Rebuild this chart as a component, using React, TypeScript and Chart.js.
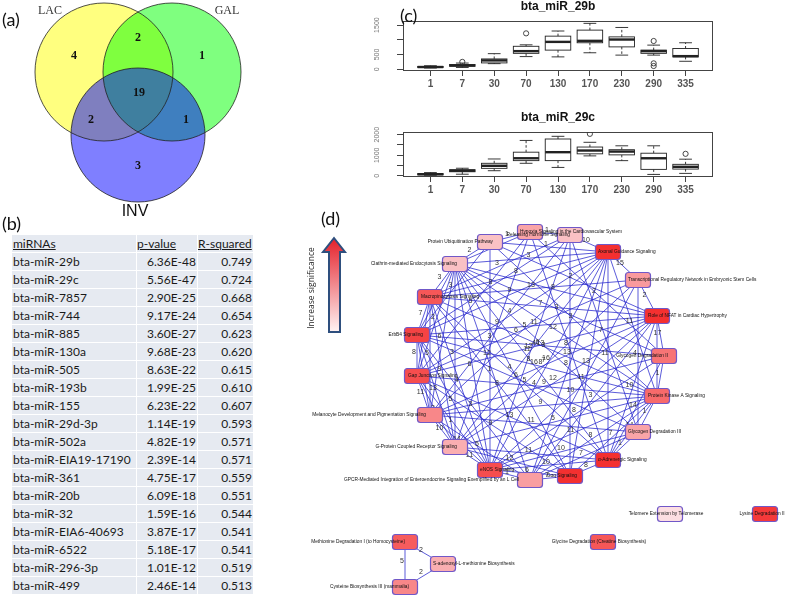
import React, { useEffect, useRef } from 'react';
import { Chart, registerables } from 'chart.js';
Chart.register(...registerables);

// ---------- (a) Venn ----------
const vennSets = ['LAC', 'GAL', 'INV'];
const vennCenterX = [104, 172, 138];
const vennCenterY = [72, 72, 135];
const vennRadius = [69, 69, 67];
const vennCounts = ['4', '2', '1', '19', '2', '1', '3'];
const vennCountX = [74, 138, 202, 139, 91, 186, 138];
const vennCountY = [56, 38, 56, 93, 120, 120, 166];

// ---------- (b) table ----------
const miRNAs = ['bta-miR-29b', 'bta-miR-29c', 'bta-miR-7857', 'bta-miR-744', 'bta-miR-885', 'bta-miR-130a', 'bta-miR-505', 'bta-miR-193b', 'bta-miR-155', 'bta-miR-29d-3p', 'bta-miR-502a', 'bta-miR-EIA19-17190', 'bta-miR-361', 'bta-miR-20b', 'bta-miR-32', 'bta-miR-EIA6-40693', 'bta-miR-6522', 'bta-miR-296-3p', 'bta-miR-499'];
const pValues = ['6.36E-48', '5.56E-47', '2.90E-25', '9.17E-24', '3.60E-27', '9.68E-23', '8.63E-22', '1.99E-25', '6.23E-22', '1.14E-19', '4.82E-19', '2.39E-14', '4.75E-17', '6.09E-18', '1.59E-16', '3.87E-17', '5.18E-17', '1.01E-12', '2.46E-14'];
const rSquared = ['0.749', '0.724', '0.668', '0.654', '0.623', '0.620', '0.615', '0.610', '0.607', '0.593', '0.571', '0.571', '0.559', '0.551', '0.544', '0.541', '0.541', '0.519', '0.513'];

// ---------- (c) boxplots ----------
const days = ['1', '7', '30', '70', '130', '170', '230', '290', '335'];
// [min, q1, median, q3, max]
const mir29bStats = [[40, 60, 75, 95, 120], [60, 100, 130, 160, 210], [190, 215, 300, 350, 530], [430, 540, 615, 780, 830], [420, 650, 930, 1125, 1300], [560, 900, 965, 1330, 1560], [480, 760, 1010, 1100, 1420], [480, 540, 615, 650, 820], [270, 420, 445, 705, 900]];
const mir29bOutliers = [[], [250], [], [1220], [], [], [], [960, 200, 110], []];
const mir29bTicks = [0, 500, 1000, 1500];
const mir29bTickLabels = ['0', '500', '', '1500'];
const mir29cStats = [[30, 50, 80, 110, 160], [80, 200, 250, 300, 370], [250, 365, 490, 610, 820], [610, 740, 855, 1150, 1720], [410, 740, 1150, 1790, 1920], [970, 1070, 1230, 1400, 1630], [740, 1020, 1180, 1270, 1460], [70, 315, 855, 1100, 1460], [120, 330, 440, 560, 810]];
const mir29cOutliers = [[], [], [], [], [], [2040], [], [], [1070]];
const mir29cTicks = [0, 500, 1000, 1500, 2000];
const mir29cTickLabels = ['0', '', '1000', '', '2000'];

// ---------- (d) network ----------
const nodeNames = [
  'Protein Ubiquitination Pathway',
  'Hypoxia Signaling in the Cardiovascular System',
  'Releasing Hormone Signaling',
  'Axonal Guidance Signaling',
  'Transcriptional Regulatory Network in Embryonic Stem Cells',
  'Role of NFAT in Cardiac Hypertrophy',
  'Glycogen Degradation II',
  'Protein Kinase A Signaling',
  'Glycogen Degradation III',
  'α-Adrenergic Signaling',
  'Gαq Signaling',
  'GPCR-Mediated Integration of Enteroendocrine Signaling Exemplified by an L Cell',
  'eNOS Signaling',
  'G-Protein Coupled Receptor Signaling',
  'Melanocyte Development and Pigmentation Signaling',
  'Gap Junction Signaling',
  'ErbB4 Signaling',
  'Macropinocytosis Signaling',
  'Clathrin-mediated Endocytosis Signaling',
  'Telomere Extension by Telomerase',
  'Lysine Degradation II',
  'Glycine Degradation (Creatine Biosynthesis)',
  'Methionine Degradation I (to Homocysteine)',
  'S-adenosyl-L-methionine Biosynthesis',
  'Cysteine Biosynthesis III (mammalia)',
];
const nodeX = [490, 530, 570, 608, 638, 657, 664, 657, 638, 608, 570, 530, 490, 455, 430, 417, 417, 430, 455, 670, 765, 603, 405, 443, 405];
const nodeY = [242, 232, 235, 252, 280, 316, 356, 396, 432, 460, 476, 480, 470, 447, 415, 376, 335, 297, 264, 514, 514, 542, 542, 564, 587];
const nodeSignificance = [0.2, 0.35, 0.2, 0.95, 0.4, 0.95, 0.6, 0.65, 0.35, 0.95, 0.95, 0.38, 0.8, 0.3, 0.5, 0.8, 0.85, 0.75, 0.2, 0.05, 0.9, 0.75, 0.72, 0.3, 0.5];
const edges = [
  [0, 1, 1], [1, 2, 1], [2, 3, 10], [3, 4, 15], [4, 5, 2], [5, 6, 17], [6, 7, 1], [7, 8, 1], [8, 9, 1], [9, 10, 8], [10, 11, 7], [11, 12, 1], [12, 13, 11], [13, 14, 10], [14, 15, 11], [15, 16, 8], [16, 17, 7], [17, 18, 3], [18, 0, 2],
  [0, 12, 12], [0, 5, 2], [0, 7, 3], [0, 16, 3], [0, 3, 1],
  [1, 18, 1], [1, 9, 8], [1, 13, 3], [1, 6, 2], [1, 15, 5],
  [2, 10, 13], [2, 12, 11], [2, 14, 9], [2, 16, 8], [2, 17, 3], [2, 8, 7],
  [3, 9, 11], [3, 10, 13], [3, 11, 8], [3, 12, 16], [3, 13, 12], [3, 14, 6], [3, 15, 4], [3, 16, 9], [3, 17, 8], [3, 18, 3], [3, 7, 11],
  [4, 11, 11], [4, 13, 7], [4, 15, 5], [4, 17, 13], [4, 8, 4],
  [5, 17, 7], [5, 16, 11], [5, 15, 4], [5, 14, 8], [5, 13, 12], [5, 12, 10], [5, 11, 3], [5, 18, 8], [5, 7, 16], [5, 9, 10],
  [6, 12, 8], [6, 14, 9], [6, 16, 6], [6, 18, 3], [6, 9, 14],
  [7, 18, 12], [7, 17, 13], [7, 16, 16], [7, 15, 4], [7, 14, 9], [7, 13, 5], [7, 12, 11], [7, 11, 8], [7, 10, 7], [7, 9, 14],
  [8, 12, 10], [8, 14, 11], [8, 16, 5], [8, 18, 3], [8, 11, 7],
  [9, 13, 11], [9, 15, 13], [9, 17, 6], [9, 18, 8], [9, 12, 10],
  [10, 13, 12], [10, 15, 9], [10, 17, 8], [10, 18, 4], [10, 12, 6],
  [11, 14, 5], [11, 16, 3], [11, 18, 1],
  [12, 14, 14], [12, 15, 1], [12, 16, 5], [12, 17, 4], [12, 18, 6],
  [13, 15, 3], [13, 16, 13], [13, 17, 9], [13, 18, 3],
  [14, 16, 7], [14, 17, 5], [14, 18, 6],
  [15, 17, 3], [15, 18, 2],
  [16, 18, 9],
  [22, 23, 2], [22, 24, 5], [23, 24, 2],
];

// label style (alignment + horizontal offset from node centre, px)
const labelAlign = ['right', 'left', 'right', 'left', 'left', 'left', 'right', 'left', 'left', 'left', 'right', 'right', 'left', 'right', 'right', 'left', 'right', 'left', 'right', 'center', 'center', 'center', 'right', 'left', 'right'];
const labelDx = [3, -10, 0, -10, -10, -9, 4, -9, -10, -10, 7, -11, -10, 2, -4, -9, 6, -9, 2, -4, -3, -4, 0, -10, 4];

function sigColor(s: number) {
  const lo = [252, 232, 236];
  const hi = [244, 38, 38];
  const c = lo.map((v, i) => Math.round(v + (hi[i] - v) * s));
  return `rgb(${c[0]},${c[1]},${c[2]})`;
}

function roundRect(ctx: CanvasRenderingContext2D, x: number, y: number, w: number, h: number, r: number) {
  ctx.beginPath();
  ctx.moveTo(x + r, y);
  ctx.lineTo(x + w - r, y);
  ctx.quadraticCurveTo(x + w, y, x + w, y + r);
  ctx.lineTo(x + w, y + h - r);
  ctx.quadraticCurveTo(x + w, y + h, x + w - r, y + h);
  ctx.lineTo(x + r, y + h);
  ctx.quadraticCurveTo(x, y + h, x, y + h - r);
  ctx.lineTo(x, y + r);
  ctx.quadraticCurveTo(x, y, x + r, y);
  ctx.closePath();
}

function makeBoxChart(canvas: HTMLCanvasElement, title: string, stats: number[][], outliers: number[][], yMin: number, yMax: number, yTicks: number[], yLabels: string[], padTop: number, xAxisH: number) {
  const boxPlugin = {
    id: 'boxes',
    beforeDatasetsDraw(chart: any) {
      const { ctx, chartArea: a, scales } = chart;
      const x = scales.x, y = scales.y;
      ctx.save();
      ctx.strokeStyle = '#444';
      ctx.lineWidth = 1;
      ctx.strokeRect(a.left + 0.5, a.top + 0.5, a.right - a.left - 1, a.bottom - a.top - 1);
      ctx.strokeStyle = '#222';
      stats.forEach((s, i) => {
        const cx = x.getPixelForValue(i + 1);
        const hw = x.getPixelForValue(i + 1.4) - cx;
        const sw = hw / 2;
        const [mn, q1, md, q3, mx] = s.map((v) => y.getPixelForValue(v));
        const line = (x1: number, y1: number, x2: number, y2: number) => { ctx.beginPath(); ctx.moveTo(x1, y1); ctx.lineTo(x2, y2); ctx.stroke(); };
        ctx.lineWidth = 0.9;
        ctx.setLineDash([2.5, 2]);
        line(cx, q3, cx, mx); line(cx, q1, cx, mn);
        ctx.setLineDash([]);
        line(cx - sw, mx, cx + sw, mx); line(cx - sw, mn, cx + sw, mn);
        ctx.fillStyle = '#fff';
        ctx.fillRect(cx - hw, q3, 2 * hw, q1 - q3);
        ctx.strokeRect(cx - hw, q3, 2 * hw, q1 - q3);
        ctx.lineWidth = 2.4;
        line(cx - hw, md, cx + hw, md);
      });
      ctx.restore();
    },
    afterDraw(chart: any) {
      const { ctx, chartArea: a } = chart;
      ctx.save();
      ctx.font = 'bold 12px "Liberation Sans"';
      ctx.fillStyle = '#111';
      ctx.textAlign = 'center';
      ctx.textBaseline = 'middle';
      ctx.fillText(title, (a.left + a.right) / 2, a.top - 14);
      ctx.restore();
    },
  };
  return new Chart(canvas, {
    type: 'scatter',
    data: {
      datasets: [{
        data: outliers.flatMap((arr, i) => arr.map((v) => ({ x: i + 1, y: v }))),
        pointStyle: 'circle', pointRadius: 2.6, borderColor: '#333', borderWidth: 0.9, backgroundColor: 'rgba(0,0,0,0)',
      }],
    },
    options: {
      animation: false, responsive: false, events: [],
      layout: { padding: { top: padTop, right: 12, left: 0, bottom: 0 } },
      plugins: { legend: { display: false }, tooltip: { enabled: false } },
      scales: {
        x: {
          type: 'linear', min: 0.14, max: 9.86,
          afterBuildTicks: (s: any) => { s.ticks = days.map((_, i) => ({ value: i + 1 })); },
          ticks: { callback: (v: any) => days[Math.round(v) - 1], font: { size: 10, weight: 'bold' }, color: '#555', padding: 2, autoSkip: false, maxRotation: 0 },
          grid: { drawOnChartArea: false, drawTicks: true, tickLength: 5, color: '#444' },
          border: { display: false },
          afterFit: (s: any) => { s.height = xAxisH; },
        },
        y: {
          type: 'linear', min: yMin, max: yMax,
          afterBuildTicks: (s: any) => { s.ticks = yTicks.map((v) => ({ value: v })); },
          ticks: { callback: (_v: any, i: number) => yLabels[i], minRotation: 90, maxRotation: 90, crossAlign: 'center', padding: 12, font: { size: 7 }, color: '#777', autoSkip: false },
          grid: { drawOnChartArea: false, drawTicks: true, tickLength: 6, color: '#444' },
          border: { display: false },
          afterFit: (s: any) => { s.width = 33; },
        },
      },
    } as any,
    plugins: [boxPlugin],
  });
}

export default function App() {
  const vennRef = useRef<HTMLCanvasElement>(null);
  const box1Ref = useRef<HTMLCanvasElement>(null);
  const box2Ref = useRef<HTMLCanvasElement>(null);
  const netRef = useRef<HTMLCanvasElement>(null);

  useEffect(() => {
    const charts: Chart[] = [];
    // Venn
    const vennFill = ['rgba(255,255,0,0.5)', 'rgba(0,255,0,0.5)', 'rgba(0,0,255,0.5)'];
    const vennPlugin = {
      id: 'venn',
      beforeDatasetsDraw(chart: any) {
        const { ctx, scales: { x, y } } = chart;
        ctx.save();
        vennCenterX.forEach((cx, i) => {
          const r = x.getPixelForValue(vennRadius[i]) - x.getPixelForValue(0);
          ctx.beginPath();
          ctx.arc(x.getPixelForValue(cx), y.getPixelForValue(vennCenterY[i]), r, 0, Math.PI * 2);
          ctx.fillStyle = vennFill[i];
          ctx.fill();
        });
        ctx.strokeStyle = '#222';
        ctx.lineWidth = 0.8;
        vennCenterX.forEach((cx, i) => {
          const r = x.getPixelForValue(vennRadius[i]) - x.getPixelForValue(0);
          ctx.beginPath();
          ctx.arc(x.getPixelForValue(cx), y.getPixelForValue(vennCenterY[i]), r, 0, Math.PI * 2);
          ctx.stroke();
        });
        ctx.restore();
      },
      afterDatasetsDraw(chart: any) {
        const { ctx, scales: { x, y } } = chart;
        ctx.save();
        ctx.fillStyle = '#111';
        ctx.textAlign = 'center';
        ctx.textBaseline = 'middle';
        ctx.font = 'bold 12px "Liberation Serif"';
        vennCounts.forEach((t, i) => ctx.fillText(t, x.getPixelForValue(vennCountX[i]), y.getPixelForValue(vennCountY[i])));
        ctx.font = '12px "Liberation Serif"';
        ctx.fillStyle = '#333';
        ctx.fillText(vennSets[0], x.getPixelForValue(50), y.getPixelForValue(11));
        ctx.fillText(vennSets[1], x.getPixelForValue(227), y.getPixelForValue(11));
        ctx.font = '16px "Liberation Sans"';
        ctx.fillStyle = '#111';
        ctx.fillText(vennSets[2], x.getPixelForValue(135), y.getPixelForValue(212));
        ctx.restore();
      },
    };
    charts.push(new Chart(vennRef.current!, {
      type: 'scatter',
      data: { datasets: [{ data: vennCenterX.map((cx, i) => ({ x: cx, y: vennCenterY[i] })), pointRadius: 0 }] },
      options: {
        animation: false, responsive: false, events: [],
        layout: { padding: 0 },
        plugins: { legend: { display: false }, tooltip: { enabled: false } },
        scales: {
          x: { type: 'linear', min: 0, max: 260, display: false },
          y: { type: 'linear', min: 0, max: 225, reverse: true, display: false },
        },
      } as any,
      plugins: [vennPlugin],
    }));

    charts.push(makeBoxChart(box1Ref.current!, 'bta_miR_29b', mir29bStats, mir29bOutliers, -60, 1640, mir29bTicks, mir29bTickLabels, 21, 24));
    charts.push(makeBoxChart(box2Ref.current!, 'bta_miR_29c', mir29cStats, mir29cOutliers, -55, 2130, mir29cTicks, mir29cTickLabels, 24, 23));

    // Network
    const netPlugin = {
      id: 'network',
      beforeDatasetsDraw(chart: any) {
        const { ctx, scales: { x, y } } = chart;
        const px = (i: number) => x.getPixelForValue(nodeX[i]);
        const py = (i: number) => y.getPixelForValue(nodeY[i]);
        ctx.save();
        // legend arrow
        const g = ctx.createLinearGradient(0, y.getPixelForValue(238), 0, y.getPixelForValue(332));
        g.addColorStop(0, '#e4202a');
        g.addColorStop(1, '#fff4f4');
        ctx.beginPath();
        ctx.moveTo(x.getPixelForValue(334), y.getPixelForValue(238));
        ctx.lineTo(x.getPixelForValue(345), y.getPixelForValue(252));
        ctx.lineTo(x.getPixelForValue(340), y.getPixelForValue(252));
        ctx.lineTo(x.getPixelForValue(340), y.getPixelForValue(332));
        ctx.lineTo(x.getPixelForValue(329), y.getPixelForValue(332));
        ctx.lineTo(x.getPixelForValue(329), y.getPixelForValue(252));
        ctx.lineTo(x.getPixelForValue(323), y.getPixelForValue(252));
        ctx.closePath();
        ctx.fillStyle = g;
        ctx.fill();
        ctx.strokeStyle = '#2e4f7e';
        ctx.lineWidth = 2;
        ctx.stroke();
        ctx.save();
        ctx.translate(x.getPixelForValue(312), y.getPixelForValue(288));
        ctx.rotate(-Math.PI / 2);
        ctx.font = '8.5px "Open Sans"';
        ctx.fillStyle = '#222';
        ctx.textAlign = 'center';
        ctx.textBaseline = 'middle';
        ctx.fillText('Increase significance', 0, 0);
        ctx.restore();
        // edges
        ctx.strokeStyle = 'rgba(40,40,205,0.85)';
        ctx.lineWidth = 0.9;
        edges.forEach(([a, b]) => {
          ctx.beginPath();
          ctx.moveTo(px(a), py(a));
          ctx.lineTo(px(b), py(b));
          ctx.stroke();
        });
        ctx.font = '7px "Liberation Sans"';
        ctx.fillStyle = '#333';
        ctx.textAlign = 'center';
        ctx.textBaseline = 'middle';
        edges.forEach(([a, b, w]) => {
          ctx.fillText(String(w), (px(a) + px(b)) / 2 - 3, (py(a) + py(b)) / 2 - 3);
        });
        // nodes
        nodeNames.forEach((_, i) => {
          roundRect(ctx, px(i) - 12.5, py(i) - 7.5, 25, 15, 3);
          ctx.fillStyle = sigColor(nodeSignificance[i]);
          ctx.fill();
          ctx.strokeStyle = '#7058c8';
          ctx.lineWidth = 1.2;
          ctx.stroke();
        });
        ctx.font = '4.8px "Liberation Sans"';
        ctx.fillStyle = '#111';
        ctx.textBaseline = 'middle';
        nodeNames.forEach((name, i) => {
          ctx.textAlign = labelAlign[i];
          ctx.fillText(name, px(i) + labelDx[i], py(i));
        });
        ctx.restore();
      },
    };
    charts.push(new Chart(netRef.current!, {
      type: 'scatter',
      data: { datasets: [{ data: nodeX.map((v, i) => ({ x: v, y: nodeY[i] })), pointRadius: 0 }] },
      options: {
        animation: false, responsive: false, events: [],
        layout: { padding: 0 },
        plugins: { legend: { display: false }, tooltip: { enabled: false } },
        scales: {
          x: { type: 'linear', min: 290, max: 787, display: false },
          y: { type: 'linear', min: 190, max: 597, reverse: true, display: false },
        },
      } as any,
      plugins: [netPlugin],
    }));
    return () => charts.forEach((c) => c.destroy());
  }, []);

  const panelLabel = (t: string, left: number, top: number) => (
    <div style={{ position: 'absolute', left, top, fontFamily: 'Lato', fontSize: 18, color: '#111', lineHeight: '20px' }}>{t}</div>
  );
  const cell: React.CSSProperties = { background: '#e6eaf1', height: 17, padding: 0, lineHeight: '17px', whiteSpace: 'nowrap' };

  return (
    <div style={{ position: 'fixed', left: 0, top: 0, width: 787, height: 597, background: '#fff', overflow: 'hidden' }}>
      <canvas ref={vennRef} width={260} height={225} style={{ position: 'absolute', left: 0, top: 0, width: 260, height: 225 }} />
      <canvas ref={box1Ref} width={355} height={95} style={{ position: 'absolute', left: 370, top: 0, width: 355, height: 95 }} />
      <canvas ref={box2Ref} width={355} height={92} style={{ position: 'absolute', left: 370, top: 108, width: 355, height: 92 }} />
      <canvas ref={netRef} width={497} height={407} style={{ position: 'absolute', left: 290, top: 190, width: 497, height: 407 }} />
      {panelLabel('(a)', 2, 9)}
      {panelLabel('(b)', 2, 213)}
      {panelLabel('(c)', 400, 5)}
      {panelLabel('(d)', 321, 208)}
      <table style={{ position: 'absolute', left: 11, top: 234, borderCollapse: 'separate', borderSpacing: 1, fontFamily: 'Lato', fontSize: 12, color: '#1a1a1a' }}>
        <tbody>
          <tr>
            <td style={{ ...cell, width: 123, paddingLeft: 1, textDecoration: 'underline' }}>miRNAs</td>
            <td style={{ ...cell, width: 60, textDecoration: 'underline' }}>p-value</td>
            <td style={{ ...cell, width: 55, textDecoration: 'underline' }}>R-squared</td>
          </tr>
          {miRNAs.map((m, i) => (
            <tr key={m}>
              <td style={{ ...cell, paddingLeft: 1 }}>{m}</td>
              <td style={{ ...cell, textAlign: 'right', paddingRight: 1 }}>{pValues[i]}</td>
              <td style={{ ...cell, textAlign: 'right', paddingRight: 1 }}>{rSquared[i]}</td>
            </tr>
          ))}
        </tbody>
      </table>
    </div>
  );
}
